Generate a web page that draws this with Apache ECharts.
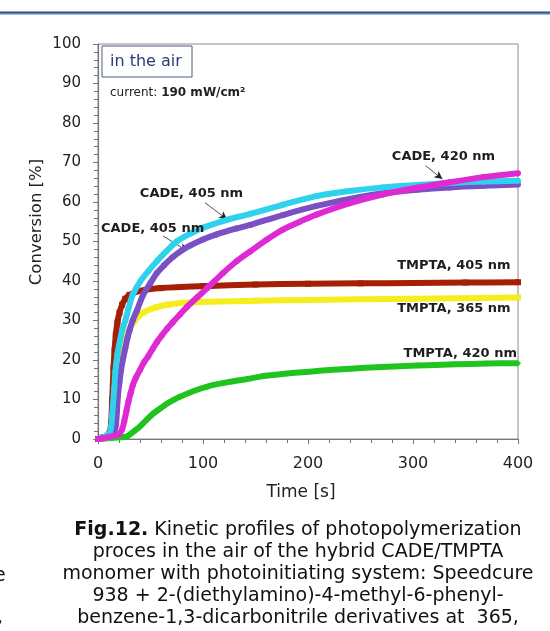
<!DOCTYPE html>
<html>
<head>
<meta charset="utf-8">
<script src="https://cdn.jsdelivr.net/npm/echarts@6/dist/echarts.min.js"></script>
<style>
  html, body { margin: 0; padding: 0; background: #fff; }
  #chart { width: 550px; height: 631px; }
</style>
</head>
<body>
<div id="chart"></div>
<script>
// Conversion [%] versus irradiation time [s], pairs of [time, conversion]
const tmpta405 = [[0,0],[3,0.3],[6,0.5],[9,0.8],[11,1.5],[12.5,4],[13.5,10],[14.2,14],[14.8,18],[15.8,22.5],[17,26.5],[18.5,29.5],[20.5,32],[23,34],[26,35.5],[30,36.5],[40,37.5],[60,38.2],[100,38.7],[150,39.1],[200,39.3],[250,39.4],[300,39.5],[350,39.6],[400,39.7]];
const tmpta365 = [[0,0],[4,0.2],[8,0.4],[12,0.8],[15,2],[17,5],[18.5,10],[20,15],[22,19.5],[24,23],[27,26],[30,27.8],[35,30],[43,32],[55,33.3],[66,34],[90,34.6],[150,35],[200,35.2],[300,35.5],[400,35.8]];
const cade405a = [[0,0],[3,0.3],[6,0.5],[9,1],[11,1.5],[12.5,3],[13.5,6],[14.2,8.5],[15.5,13],[16.5,17],[18.5,21.5],[21,25],[23,27.5],[26,30],[29,33],[33,36.5],[40,39.8],[48,42.5],[56,45],[65,47.5],[75,50],[88,52],[100,53.5],[123,55.5],[145,57],[176,59.3],[208,61.5],[240,62.8],[271,63.7],[304,64.3],[335,64.8],[367,65.2],[400,65.4]];
const cade405b = [[0,0],[4,0.2],[8,0.4],[12,0.8],[15,1.5],[17,3.5],[18,7],[19,11],[20.5,14.5],[22,17.5],[24,20.5],[26,23],[28,25.5],[30,27.5],[33,30],[37,32.5],[43,36.5],[50,39.5],[56,42],[63,44],[71,46],[80,47.8],[88,49],[100,50.5],[113,51.8],[132,53.3],[145,54.2],[176,56.7],[208,59],[240,60.8],[271,62.2],[304,63.1],[335,63.7],[367,64.1],[400,64.4]];
const cade420 = [[0,0],[5,0.2],[10,0.5],[15,0.8],[20,1.2],[23,2.5],[25,4.5],[27,7],[29,9.5],[31,11.5],[33,13.5],[36,15.5],[40,17.5],[44,19.5],[48,21],[52,22.8],[56,24.5],[61,26.3],[66,28],[71,29.5],[78,31.5],[85,33.5],[95,36],[104,38.2],[119,42],[132,45],[145,47.5],[161,50.5],[176,53],[192,55],[208,56.8],[240,59.7],[271,61.9],[304,63.6],[335,65],[367,66.3],[400,67.3]];
const tmpta420 = [[0,0],[5,0.1],[10,0.2],[15,0.3],[20,0.4],[25,0.5],[28,0.7],[32,1.5],[36,2.3],[40,3.2],[46,4.8],[52,6.3],[59,7.7],[66,9],[72,9.9],[78,10.7],[86,11.6],[94,12.4],[102,13.1],[110,13.7],[126,14.5],[142,15.2],[160,16],[180,16.6],[208,17.2],[240,17.8],[270,18.2],[304,18.6],[340,18.9],[370,19.1],[400,19.2]];

const xTicks = [0, 100, 200, 300, 400];
const yTicks = [0, 10, 20, 30, 40, 50, 60, 70, 80, 90, 100];

// Curve labels: text, anchor [time, conversion], alignment
const curveLabels = [
  { text: 'CADE, 420 nm',  at: [329, 71.4], align: 'center' },
  { text: 'CADE, 405 nm',  at: [89, 62.0],  align: 'center' },
  { text: 'CADE, 405 nm',  at: [52, 53.2],  align: 'center' },
  { text: 'TMPTA, 405 nm', at: [393, 43.8], align: 'right' },
  { text: 'TMPTA, 365 nm', at: [393, 32.9], align: 'right' },
  { text: 'TMPTA, 420 nm', at: [399, 21.5], align: 'right' }
];
// Leader arrows: [from, to] in data units
const arrows = [
  [[312, 69.2], [328, 65.8]],
  [[102, 59.8], [123, 55.6]],
  [[62, 51.4], [85, 47.6]]
];

const caption = [
  '{b|Fig.12.} Kinetic profiles of photopolymerization',
  'proces in the air of the hybrid CADE/TMPTA',
  'monomer with photoinitiating system: Speedcure',
  '938 + 2-(diethylamino)-4-methyl-6-phenyl-',
  'benzene-1,3-dicarbonitrile derivatives at  365,'
];

const FONT = 'DejaVu Sans';
const chart = echarts.init(document.getElementById('chart'), null, { renderer: 'canvas' });

function curve(name, data, color, symbol, z) {
  return {
    name, type: 'line', data, z,
    smooth: 0.3,
    symbol, symbolSize: 6, showSymbol: true,
    itemStyle: { color },
    lineStyle: { color, width: 6 },
    animation: false
  };
}

const series = [
  curve('TMPTA, 420 nm', tmpta420, '#1fc41f', 'diamond', 2),
  curve('TMPTA, 365 nm', tmpta365, '#f5ee1e', 'rect', 3),
  curve('TMPTA, 405 nm', tmpta405, '#a51e05', 'rect', 4),
  curve('CADE, 405 nm (b)', cade405b, '#7a50c6', 'circle', 5),
  curve('CADE, 405 nm (a)', cade405a, '#2fd2ec', 'circle', 6),
  curve('CADE, 420 nm', cade420, '#df2ad4', 'circle', 7)
];
// arrows drawn as a mark line on a helper series
series.push({
  type: 'line', data: [], z: 10, silent: true,
  markLine: {
    silent: true, symbol: ['none', 'arrow'], symbolSize: [6, 8],
    lineStyle: { color: '#222', width: 0.8, type: 'solid' },
    label: { show: false },
    data: arrows.map(a => [{ coord: a[0] }, { coord: a[1] }])
  },
  animation: false
});

chart.setOption({
  animation: false,
  backgroundColor: '#fff',
  grid: { left: 98, right: 32, top: 44, bottom: 192, show: true, borderColor: '#8a8a8a', borderWidth: 1 },
  xAxis: {
    type: 'value', min: 0, max: 400, interval: 100,
    axisLine: { show: true, lineStyle: { color: '#777', width: 1.2 } },
    axisTick: { show: true, length: 5, inside: false, lineStyle: { color: '#777' } },
    minorTick: { show: true, splitNumber: 5, length: 4, lineStyle: { color: '#777' } },
    splitLine: { show: false },
    axisLabel: { color: '#222', fontFamily: FONT, fontSize: 16, margin: 17,
      formatter: v => xTicks.includes(v) ? String(v) : '' }
  },
  yAxis: {
    type: 'value', min: 0, max: 100, interval: 10,
    axisLine: { show: true, lineStyle: { color: '#777', width: 1.2 } },
    axisTick: { show: true, length: 5, inside: false, lineStyle: { color: '#777' } },
    minorTick: { show: true, splitNumber: 5, length: 4, lineStyle: { color: '#777' } },
    splitLine: { show: false },
    axisLabel: { color: '#222', fontFamily: FONT, fontSize: 15, margin: 17,
      formatter: v => yTicks.includes(v) ? String(v) : '' }
  },
  series
});

// Overlay texts: labels placed from data anchors, plus titles and caption
const g = [];
curveLabels.forEach(l => {
  const p = chart.convertToPixel({ gridIndex: 0 }, l.at);
  g.push({ type: 'text', x: p[0], y: p[1], z: 20,
    style: { text: l.text, fill: '#1e1e1e', font: 'bold 13px "DejaVu Sans"', textAlign: l.align, textVerticalAlign: 'middle' } });
});
g.push({ type: 'rect', shape: { x: 102, y: 46, width: 90, height: 31 }, z: 20,
  style: { fill: '#fff', stroke: '#4a5a8a', lineWidth: 1 } });
g.push({ type: 'text', x: 110, y: 62, z: 21,
  style: { text: 'in the air', fill: '#2b3b78', font: '16px "DejaVu Sans"', textVerticalAlign: 'middle' } });
g.push({ type: 'text', x: 110, y: 93, z: 21,
  style: { text: 'current: {b|190 mW/cm²}', fill: '#222', font: '12px "DejaVu Sans"', textVerticalAlign: 'middle',
    rich: { b: { fontWeight: 'bold', fontSize: 12, fontFamily: FONT, fill: '#222' } } } });
g.push({ type: 'text', x: 37, y: 222, rotation: Math.PI / 2, z: 21,
  style: { text: 'Conversion [%]', fill: '#222', font: '16.5px "DejaVu Sans"', textAlign: 'center', textVerticalAlign: 'middle' } });
g.push({ type: 'text', x: 301, y: 493, z: 21,
  style: { text: 'Time [s]', fill: '#222', font: '17px "DejaVu Sans"', textAlign: 'center', textVerticalAlign: 'middle' } });
caption.forEach((line, i) => {
  g.push({ type: 'text', x: 298, y: 530 + i * 22, z: 21,
    style: { text: line, fill: '#111', font: '19px "DejaVu Sans"', textAlign: 'center', textVerticalAlign: 'middle',
      rich: { b: { fontWeight: 'bold', fontSize: 19, fontFamily: FONT, fill: '#111' } } } });
});
// neighbouring column fragments and page rule
g.push({ type: 'text', x: -6, y: 576, z: 21, style: { text: 'e', fill: '#111', font: '19px "DejaVu Sans"', textVerticalAlign: 'middle' } });
g.push({ type: 'text', x: -3, y: 618, z: 21, style: { text: ',', fill: '#111', font: '19px "DejaVu Sans"', textVerticalAlign: 'middle' } });
g.push({ type: 'rect', shape: { x: 0, y: 11.5, width: 550, height: 2.2 }, z: 21, style: { fill: '#2d4d8c' } });
g.push({ type: 'rect', shape: { x: 0, y: 13.7, width: 550, height: 1 }, z: 21, style: { fill: '#8ea3cc' } });

chart.setOption({ graphic: g });
</script>
</body>
</html>
